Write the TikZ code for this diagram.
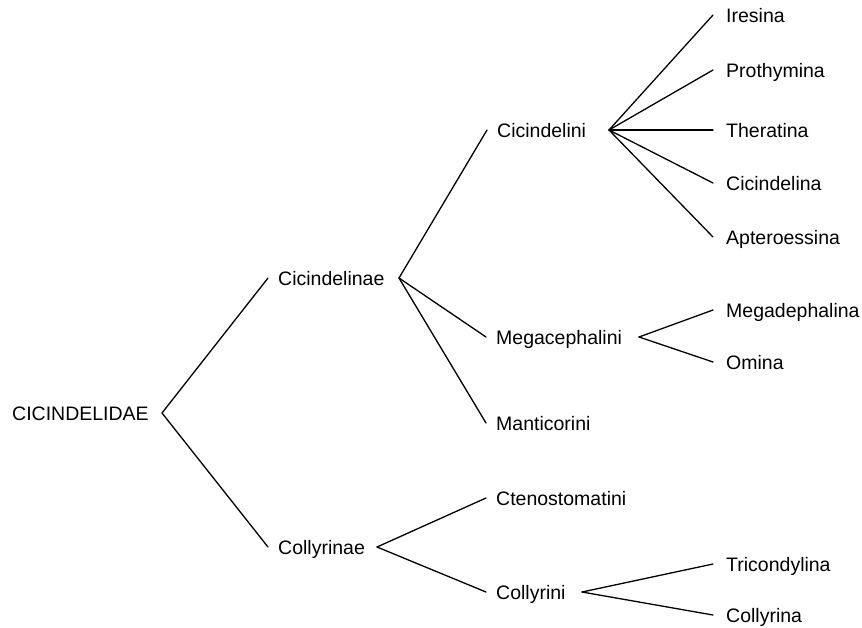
\documentclass[tikz,border=0pt]{standalone}
\usepackage{fontspec}
\setmainfont{Liberation Sans}
\tikzset{
	taxon/.style={anchor=west,inner xsep=0pt,inner ysep=0pt,text height=14pt,text depth=0pt,font=\fontsize{19.5}{23}\selectfont},
	branch/.style={line width=1.3pt,line cap=round}
}
\begin{document}
\begin{tikzpicture}[x=1pt,y=-1pt]
		\useasboundingbox (0,0) rectangle (862,627);
		% taxa
		\node[taxon] (cicindelidae) at (12,413) {CICINDELIDAE};
		\node[taxon] (cicindelinae) at (278,278) {Cicindelinae};
		\node[taxon] (collyrinae) at (278,547) {Collyrinae};
		\node[taxon] (cicindelini) at (497,130) {Cicindelini};
		\node[taxon] (megacephalini) at (496,337) {Megacephalini};
		\node[taxon] (manticorini) at (496,423) {Manticorini};
		\node[taxon] (ctenostomatini) at (496,498) {Ctenostomatini};
		\node[taxon] (collyrini) at (496,592) {Collyrini};
		\node[taxon] (iresina) at (726,15) {Iresina};
		\node[taxon] (prothymina) at (726,70) {Prothymina};
		\node[taxon] (theratina) at (726,130) {Theratina};
		\node[taxon] (cicindelina) at (726,183) {Cicindelina};
		\node[taxon] (apteroessina) at (726,237) {Apteroessina};
		\node[taxon] (megadephalina) at (726,310) {Megadephalina};
		\node[taxon] (omina) at (726,362) {Omina};
		\node[taxon] (tricondylina) at (726,564) {Tricondylina};
		\node[taxon] (collyrina) at (726,615) {Collyrina};
		% forks
		\coordinate (cicindelidae-fork) at (162,413);
		\coordinate (cicindelinae-fork) at (399,278);
		\coordinate (collyrinae-fork) at (377,547);
		\coordinate (cicindelini-fork) at (609,130);
		\coordinate (megacephalini-fork) at (639,337);
		\coordinate (collyrini-fork) at (582,592);
		% branches
		\foreach \c in {cicindelinae,collyrinae}
			\draw[branch] (cicindelidae-fork) -- ([xshift=-10pt]\c.west);
		\foreach \c in {cicindelini,megacephalini,manticorini}
			\draw[branch] (cicindelinae-fork) -- ([xshift=-10pt]\c.west);
		\foreach \c in {ctenostomatini,collyrini}
			\draw[branch] (collyrinae-fork) -- ([xshift=-10pt]\c.west);
		\foreach \c in {iresina,prothymina,theratina,cicindelina,apteroessina}
			\draw[branch] (cicindelini-fork) -- ([xshift=-13pt]\c.west);
		\foreach \c in {megadephalina,omina}
			\draw[branch] (megacephalini-fork) -- ([xshift=-13pt]\c.west);
		\foreach \c in {tricondylina,collyrina}
			\draw[branch] (collyrini-fork) -- ([xshift=-13pt]\c.west);
		\end{tikzpicture}
\end{document}
